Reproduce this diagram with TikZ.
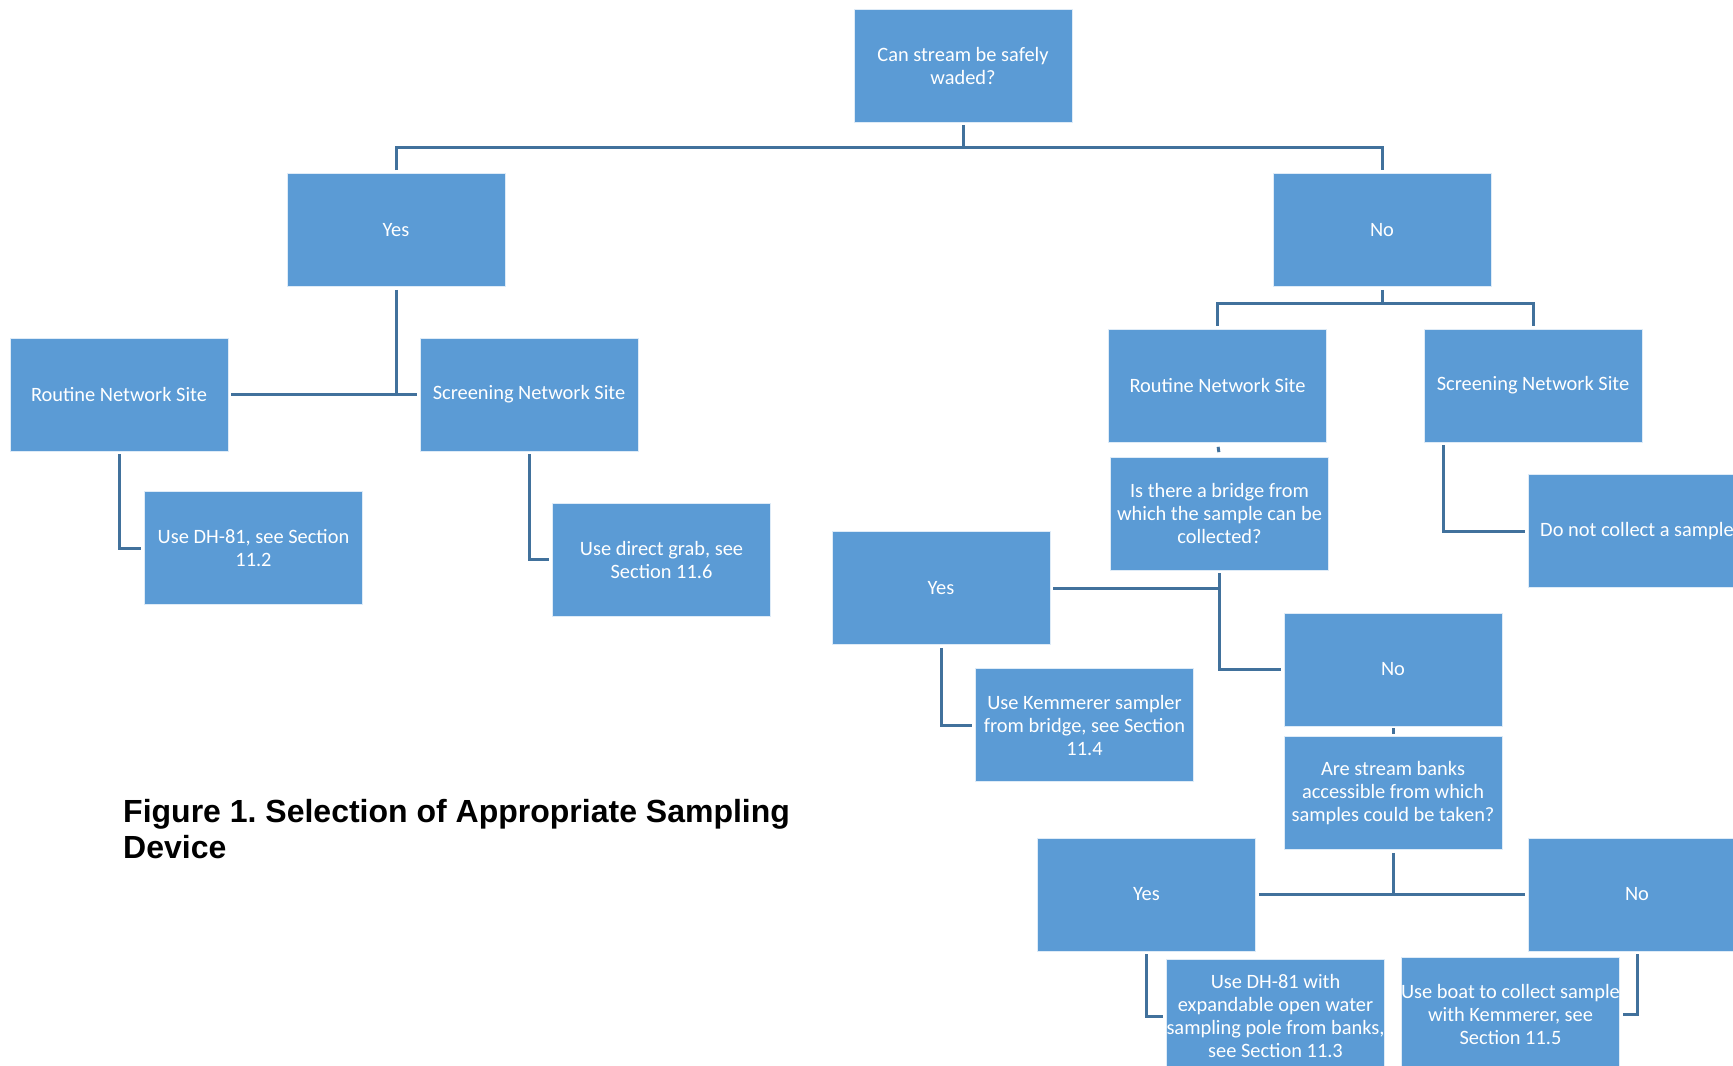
\documentclass[tikz,border=0pt]{standalone}
\usepackage{fontspec}
\setmainfont{Carlito}
\newfontfamily\capfont{Liberation Sans}
\usepackage{tikz}
\usetikzlibrary{calc}
\definecolor{boxblue}{RGB}{91,155,213}
\definecolor{linkblue}{RGB}{65,113,156}
\frenchspacing

\begin{document}
\begin{tikzpicture}[x=1pt,y=-1pt,
  box/.style={fill=boxblue,draw=white!80!boxblue,line width=0.8pt,minimum width=218pt,minimum height=113pt,
    inner xsep=0pt,inner ysep=2pt,align=center,text=white,font=\fontsize{20.4}{23}\selectfont},
  link/.style={linkblue,line width=3pt,shorten <=3pt,shorten >=3pt},
  figcap/.style={font=\capfont\bfseries\fontsize{32}{36.5}\selectfont,align=left,inner sep=0pt,anchor=north west}]
\useasboundingbox (0,0) rectangle (1733,1066);
\clip (0,0) rectangle (1733,1066);
\node[box](top) at (963,65.5) {Can stream be safely\\waded?};
\node[box](yes) at (396,230) {Yes};
\node[box](no) at (1382,230) {No};
\node[box](lroutine) at (119,394.5) {Routine Network Site};
\node[box](lscreen) at (529,394.5) {Screening Network Site};
\node[box](dheightone) at (253.5,548) {Use DH-81, see Section\\11.2};
\node[box](grab) at (661.5,559.5) {Use direct grab, see\\Section 11.6};
\node[box](rroutine) at (1217.5,385.5) {Routine Network Site};
\node[box](rscreen) at (1533,385.5) {Screening Network Site};
\node[box](bridge) at (1219.5,513.5) {Is there a bridge from\\which the sample can be\\collected?};
\node[box](nocollect) at (1637,531) {Do not collect a sample};
\node[box](myes) at (941,588) {Yes};
\node[box](mno) at (1393,669.5) {No};
\node[box](kemmerer) at (1084.5,725) {Use Kemmerer sampler\\from bridge, see Section\\11.4};
\node[box](banks) at (1393,793) {Are stream banks\\accessible from which\\samples could be taken?};
\node[box](byes) at (1146.5,894.5) {Yes};
\node[box](bno) at (1637,894.5) {No};
\node[box](dhpole) at (1275.5,1016) {Use DH-81 with\\expandable open water\\sampling pole from banks,\\see Section 11.3};
\node[box](boat) at (1510.5,1014) {Use boat to collect sample\\with Kemmerer, see\\Section 11.5};
\node[figcap](caption) at (123,799) {Figure 1. Selection of Appropriate Sampling\\Device};
\draw[link,shorten >=0pt] (top.south) -- ++(0,25) coordinate (tj);
\draw[link] (yes.north) |- (tj) -| (no.north);
\draw[link,shorten >=0pt] (yes.south) -- (yes.south |- lroutine.east);
\draw[link] (lroutine.east) -- (lscreen.west);
\draw[link] (lroutine.south) |- (dheightone.west);
\draw[link] (lscreen.south) |- (grab.west);
\draw[link,shorten >=0pt] (no.south) -- ++(0,17) coordinate (nj);
\draw[link] (rroutine.north) |- (nj) -| (rscreen.north);
\draw[link,shorten <=4.5pt,shorten >=4.5pt] (rroutine.south) -- (bridge.north);
\draw[link] ([xshift=20pt]rscreen.south west) |- (nocollect.west);
\draw[link] (bridge.south) |- (mno.west);
\draw[link,shorten >=0pt] (myes.east) -- (myes.east -| bridge.south);
\draw[link] (myes.south) |- (kemmerer.west);
\draw[link,shorten <=2pt,shorten >=2pt] (mno.south) -- (banks.north);
\draw[link,shorten >=0pt] (banks.south) -- (banks.south |- byes.east);
\draw[link] (byes.east) -- (bno.west);
\draw[link] (byes.south) |- (dhpole.west);
\draw[link] (bno.south) |- (boat.east);
\end{tikzpicture}
\end{document}
